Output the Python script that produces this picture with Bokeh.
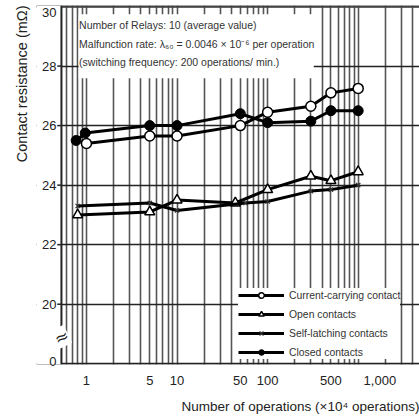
from bokeh.plotting import figure
from bokeh.core.properties import value
from bokeh.models import (FixedTicker, Label, BoxAnnotation, Span, Legend,
                          LegendItem, Range1d, Title)
from bokeh.embed import file_html
from bokeh.resources import INLINE

# ---------------- data ----------------
x_current = [1, 5, 10, 50, 100, 300, 500, 1000]
y_current = [25.4, 25.65, 25.65, 26.0, 26.45, 26.65, 27.1, 27.25]

x_open = [0.8, 5, 10, 44, 100, 300, 500, 1000]
y_open = [23.0, 23.1, 23.5, 23.4, 23.85, 24.3, 24.15, 24.45]

x_self = [0.8, 5, 10, 57, 100, 300, 500, 1000]
y_self = [23.3, 23.4, 23.15, 23.4, 23.45, 23.8, 23.85, 24.0]

x_closed = [0.77, 0.97, 5, 10, 50, 100, 300, 500, 1000]
y_closed = [25.5, 25.75, 26.0, 26.0, 26.4, 26.1, 26.15, 26.5, 26.5]

x_ticks = [1, 5, 10, 50, 100, 500, 1000]
x_tick_labels = ["1", "5", "10", "50", "100", "500", "1,000"]
# the y axis is broken: position 18 stands for the value 0
y_ticks = [18, 20, 22, 24, 26, 28, 30]
y_tick_labels = ["0", "20", "22", "24", "26", "28", "30"]
y_break = 18.9

series_names = ["Current-carrying contact", "Open contacts",
                "Self-latching contacts", "Closed contacts"]
note_lines = ["Number of Relays: 10 (average value)",
              "Malfunction rate: \u03bb\u2086\u2080 = 0.0046 \u00d7 10\u207b\u2076 per operation",
              "(switching frequency: 200 operations/ min.)"]
x_title = "Number of operations (\u00d710\u2074 operations)"
y_title = "Contact resistance (m\u03a9)"

FONT = "Liberation Sans"
INK = "#222222"
# frame spans 36..419 px; the drawn y axis sits at x = X_AX (61 px)
X0, X1 = 0.281, 4750
X_AX = 0.5297      # axis line position
X_TICK = 0.4764    # outer end of the short y ticks
X_LAB = 0.4664     # right edge of the y tick labels
Y0, Y1 = 17.975, 30.035

p = figure(width=419, height=419, x_axis_type="log", y_axis_location=None,
           x_range=Range1d(X0, X1), y_range=Range1d(Y0, Y1),
           output_backend="svg", toolbar_location=None,
           min_border_left=36, min_border_right=0, min_border_top=5,
           min_border_bottom=51)
p.outline_line_color = None
p.background_fill_color = "white"

# grid: every 1..9 x 10^k vertically, even values horizontally
grid_x = [m * 10 ** k for k in range(-1, 4) for m in range(1, 10)
          if X_AX < m * 10 ** k < X1]
p.xgrid.ticker = FixedTicker(ticks=grid_x)
p.xgrid.grid_line_color = "#555555"
p.xgrid.grid_line_width = 1.6
p.ygrid.ticker = FixedTicker(ticks=y_ticks[1:])
p.ygrid.grid_line_color = INK
p.ygrid.grid_line_width = 1.5

# top and bottom frame lines
p.add_layout(Span(location=30, dimension="width", line_color="#444444",
                  line_width=2.5, level="underlay"))
p.add_layout(Span(location=18, dimension="width", line_color=INK,
                  line_width=2, level="underlay"))
# blank strip left of the y axis (drawn above grid lines)
p.add_layout(BoxAnnotation(left=X0, right=X_AX, bottom=Y0, top=Y1,
                           fill_color="white", fill_alpha=1.0,
                           line_color=None, level="annotation"))

# x axis
xa = p.xaxis[0]
xa.ticker = FixedTicker(ticks=x_ticks)
overrides = {t: l for t, l in zip(x_ticks, x_tick_labels)}
overrides[1000] = "\u00a0" * 12 + overrides[1000]   # label sits right of its line
xa.major_label_overrides = overrides
xa.major_label_standoff = 2
xa.axis_line_color = None
xa.major_tick_line_color = None
xa.minor_tick_line_color = None
xa.major_label_text_font = FONT
xa.major_label_text_font_size = "13px"
xa.major_label_text_color = INK

# y axis: line, short ticks and labels (above the blank strip)
y_label_pos = [29.8 if t == 30 else (18.08 if t == 18 else t) for t in y_ticks]
p.segment(x0=[X_TICK] * 5, y0=y_ticks[1:6], x1=[X_AX] * 5, y1=y_ticks[1:6],
          line_color=INK, line_width=1.5, level="overlay")
p.text(x=[X_LAB] * len(y_ticks), y=y_label_pos, text=y_tick_labels,
       text_font=value(FONT), text_font_size="13px", text_color=INK,
       text_align="right", text_baseline="middle", level="overlay")
p.add_layout(Span(location=X_AX, dimension="height", line_color=INK,
                  line_width=2, level="overlay"))
p.add_layout(Label(x=X_AX, y=y_break, text="\u2248", text_font="DejaVu Sans",
                   text_font_size="17px", text_color=INK, angle=0.45,
                   text_align="center", text_baseline="middle",
                   background_fill_color="white", level="overlay"))

# axis titles
p.add_layout(Title(text=x_title, align="right", text_font=FONT,
                   text_font_size="13.5px", text_font_style="normal",
                   text_color=INK, standoff=12), "below")
p.add_layout(Title(text=y_title, align="right", text_font=FONT,
                   text_font_size="14.5px", text_font_style="normal",
                   text_color=INK, standoff=14), "left")

# note box
p.add_layout(BoxAnnotation(left=0.82, right=323, bottom=27.59, top=29.74,
                           fill_color="white", fill_alpha=1.0,
                           line_color=None))
for txt, yy in zip(note_lines, [29.37, 28.74, 28.15]):
    p.add_layout(Label(x=0.83, y=yy, text=txt, text_font=FONT,
                       text_font_size="10.5px", text_color="#333333",
                       text_baseline="middle"))

# series
LW = 3
l_c = p.line(x_current, y_current, line_color="black", line_width=LW)
s_c = p.scatter(x_current, y_current, marker="circle", size=10,
                fill_color="white", line_color="black", line_width=1.5)
l_o = p.line(x_open, y_open, line_color="black", line_width=LW)
s_o = p.scatter(x_open, y_open, marker="triangle", size=10,
                fill_color="white", line_color="black", line_width=1.5)
l_s = p.line(x_self, y_self, line_color="black", line_width=LW)
s_s = p.scatter(x_self, y_self, marker="x", size=6,
                line_color="#333333", line_width=1.3)
l_k = p.line(x_closed, y_closed, line_color="black", line_width=LW)
s_k = p.scatter(x_closed, y_closed, marker="circle", size=10,
                fill_color="black", line_color="black")

legend = Legend(items=[
    LegendItem(label=series_names[0], renderers=[l_c, s_c]),
    LegendItem(label=series_names[1], renderers=[l_o, s_o]),
    LegendItem(label=series_names[2], renderers=[l_s, s_s]),
    LegendItem(label=series_names[3], renderers=[l_k, s_k]),
], location=(202, 5), glyph_width=46, glyph_height=14, spacing=5,
    label_standoff=5, padding=5, margin=0,
    label_text_font=FONT, label_text_font_size="10.4px",
    label_text_color="#333333", border_line_color=None,
    background_fill_color="white", background_fill_alpha=1.0)
p.add_layout(legend)

open("out.html", "w").write(file_html(p, INLINE))
